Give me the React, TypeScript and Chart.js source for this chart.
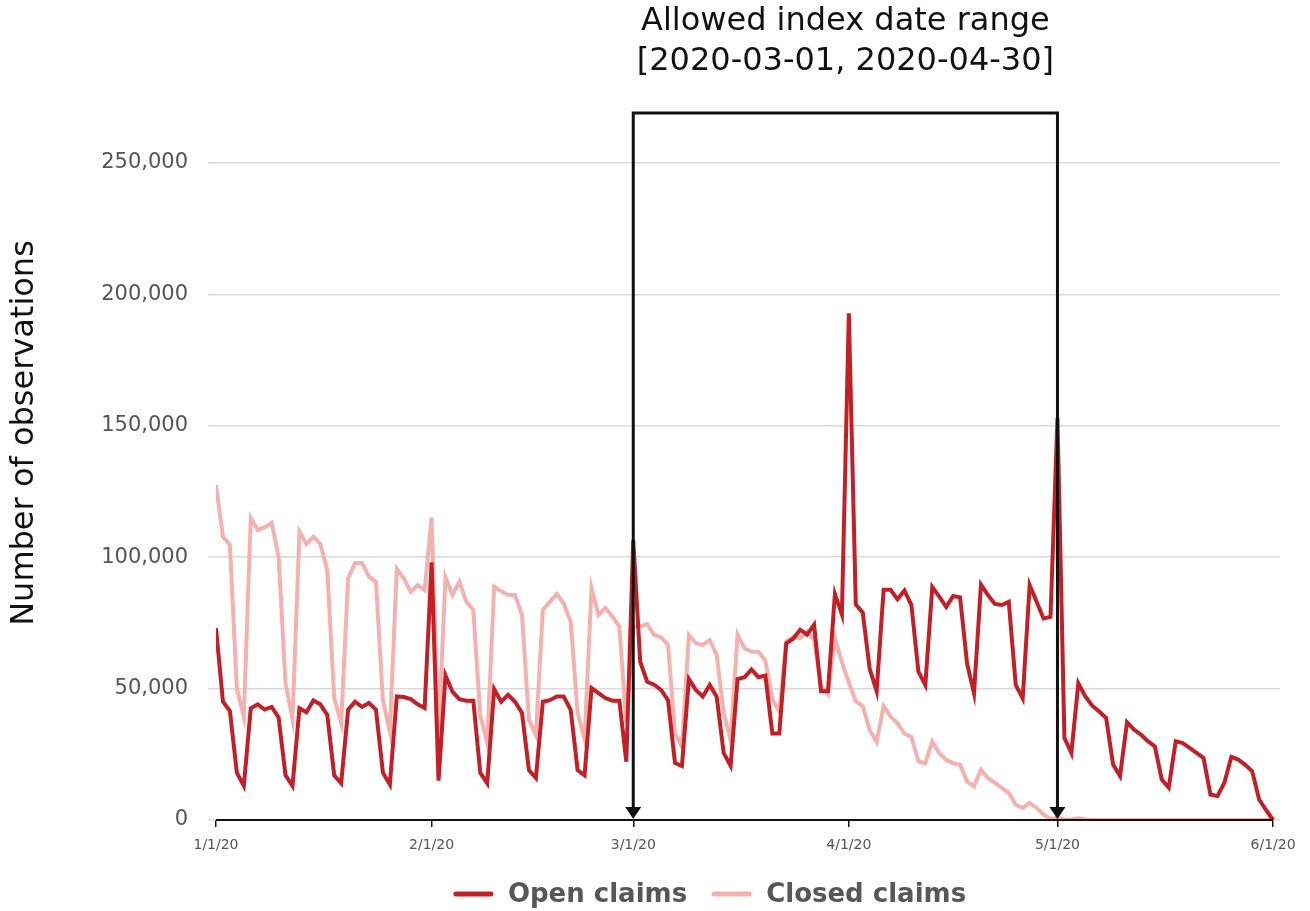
import React, { useEffect, useRef } from "react";
import { Chart, registerables } from "chart.js";

Chart.register(...registerables);

// Daily observations from 2020-01-01 (day 0) to 2020-06-01 (day 152)
const openClaims: number[] = [
  // Jan
  73000, 45000, 41500, 18000, 13000, 42500, 44000, 42000, 43000, 39000,
  17000, 13000, 42500, 41000, 45500, 44000, 40000, 17000, 14000, 42000,
  45000, 43000, 44500, 42000, 18000, 13500, 47000, 46800, 46000, 44000, 42600,
  // Feb
  98000, 15000, 55000, 48800, 46000, 45400, 45400, 18000, 14000, 49800,
  45000, 47600, 45000, 40700, 19000, 16000, 45000, 45600, 47000, 47000,
  41900, 19000, 17000, 50200, 48300, 46400, 45400, 45400, 22200,
  // Mar
  106500, 60200, 52600, 51500, 49500, 45600, 21700, 20500, 53600, 49500,
  47000, 51400, 46900, 25500, 20600, 53600, 54300, 57300, 54300, 55000,
  32900, 32900, 67200, 69000, 72400, 70500, 74300, 49000, 49000, 86000, 78200,
  // Apr
  192800, 82000, 78900, 57500, 49000, 87600, 87600, 84000, 87300, 81800,
  56500, 51400, 88700, 85000, 81100, 85200, 84700, 59600, 48200, 89600,
  85600, 82200, 81800, 83000, 51400, 46300, 89400, 83000, 76700, 77300,
  // May
  152900, 31200, 25500, 52000, 47000, 43500, 41300, 38800, 21100, 16700,
  37200, 34400, 32500, 30000, 28000, 15400, 12300, 30000, 29300, 27400,
  25500, 23600, 9700, 9100, 14200, 24000, 23000, 21000, 18500, 7800, 3800,
  // Jun 1
  0,
];

const closedClaims: number[] = [
  // Jan
  127500, 107800, 104600, 50000, 39300, 114900, 110300, 111400, 113000, 100200,
  52000, 38400, 109700, 105000, 107800, 105000, 95100, 46400, 36900, 92000,
  97800, 97800, 92600, 90600, 45600, 33600, 95500, 92000, 86900, 89400, 87500,
  // Feb
  115000, 31700, 92400, 85600, 90700, 83000, 79900, 40000, 29300, 88800,
  87000, 85600, 85600, 78000, 38000, 32300, 79900, 83000, 86000, 82500,
  75500, 40700, 30800, 88300, 78000, 80700, 77400, 73600, 37000,
  // Mar
  73600, 73600, 74600, 70400, 69500, 66600, 33000, 27900, 70400, 67300,
  66600, 68500, 62800, 40700, 30400, 70500, 65300, 64000, 64000, 60700,
  45900, 41300, 67900, 69800, 69200, 71800, 68500, 51000, 47800, 69200, 60100,
  // Apr
  52300, 45200, 43300, 34200, 29700, 43300, 39400, 36800, 32900, 31600,
  22300, 21600, 29900, 25400, 22900, 21600, 21000, 14700, 12800, 19100,
  16000, 14100, 12200, 10300, 5800, 4600, 6500, 4600, 2000, 400,
  // May
  800, 300, 200, 700, 300, 0, 0, 0, 0, 0,
  0, 0, 0, 0, 0, 0, 0, 0, 0, 0,
  0, 0, 0, 0, 0, 0, 0, 0, 0, 0, 0,
  // Jun 1
  0,
];

const seriesNames: string[] = ["Open claims", "Closed claims"];
const seriesColors: string[] = ["#C21F27", "#F3B2B0"];

const xTickDays: number[] = [0, 31, 60, 91, 121, 152];
const xTickLabels: string[] = ["1/1/20", "2/1/20", "3/1/20", "4/1/20", "5/1/20", "6/1/20"];
const yTicks: number[] = [0, 50000, 100000, 150000, 200000, 250000];

const yTitle = "Number of observations";
const rangeTitle: string[] = ["Allowed index date range", "[2020-03-01, 2020-04-30]"];
const rangeStartDay = 60;
const rangeEndDay = 121;
const rangeTopValue = 269000;

const FONT = "'DejaVu Sans', sans-serif";

export default function App() {
  const ref = useRef<HTMLCanvasElement | null>(null);

  useEffect(() => {
    if (!ref.current) return;
    Chart.defaults.font.family = FONT;

    const overlay = {
      id: "overlay",
      afterDraw(chart: any) {
        const { ctx, scales, chartArea } = chart;
        const xs = scales.x;
        const ys = scales.y;
        ctx.save();

        // bottom axis line (spans the data range)
        ctx.strokeStyle = "#111";
        ctx.lineWidth = 2;
        ctx.beginPath();
        ctx.moveTo(xs.getPixelForValue(0), chartArea.bottom);
        ctx.lineTo(xs.getPixelForValue(152), chartArea.bottom);
        ctx.stroke();

        // range box
        const x1 = xs.getPixelForValue(rangeStartDay);
        const x2 = xs.getPixelForValue(rangeEndDay);
        const yTop = ys.getPixelForValue(rangeTopValue);
        const yBot = ys.getPixelForValue(0);
        const ah = 12;
        const aw = 8;
        ctx.lineWidth = 3;
        ctx.lineJoin = "miter";
        ctx.beginPath();
        ctx.moveTo(x1, yBot - ah);
        ctx.lineTo(x1, yTop);
        ctx.lineTo(x2, yTop);
        ctx.lineTo(x2, yBot - ah);
        ctx.stroke();
        ctx.fillStyle = "#111";
        for (const x of [x1, x2]) {
          ctx.beginPath();
          ctx.moveTo(x - aw, yBot - ah - 1);
          ctx.lineTo(x + aw, yBot - ah - 1);
          ctx.lineTo(x, yBot - 1);
          ctx.closePath();
          ctx.fill();
        }

        // range title
        ctx.fillStyle = "#111";
        ctx.font = `32px ${FONT}`;
        ctx.textAlign = "center";
        ctx.textBaseline = "middle";
        const cx = (x1 + x2) / 2;
        ctx.fillText(rangeTitle[0], cx, 22);
        ctx.fillText(rangeTitle[1], cx, 62);

        // y title
        ctx.save();
        ctx.translate(25, 433);
        ctx.rotate(-Math.PI / 2);
        ctx.font = `32px ${FONT}`;
        ctx.fillText(yTitle, 0, 0);
        ctx.restore();

        // legend
        ctx.font = `bold 26px ${FONT}`;
        ctx.textAlign = "left";
        ctx.textBaseline = "middle";
        const ly = 894;
        const lineLen = 35;
        const gapLT = 17;
        const gapItems = 27;
        const w0 = ctx.measureText(seriesNames[0]).width;
        const w1 = ctx.measureText(seriesNames[1]).width;
        const total = lineLen + gapLT + w0 + gapItems + lineLen + gapLT + w1;
        let lx = 711 - total / 2;
        [0, 1].forEach((i) => {
          ctx.strokeStyle = seriesColors[i];
          ctx.lineWidth = 5;
          ctx.lineCap = "round";
          ctx.beginPath();
          ctx.moveTo(lx, ly);
          ctx.lineTo(lx + lineLen, ly);
          ctx.stroke();
          lx += lineLen + gapLT;
          ctx.fillStyle = "#555857";
          ctx.fillText(seriesNames[i], lx, ly + 1);
          lx += (i === 0 ? w0 : w1) + gapItems;
        });

        ctx.restore();
      },
    };

    const chart = new Chart(ref.current, {
      type: "line",
      data: {
        datasets: [
          {
            label: seriesNames[0],
            data: openClaims.map((v, i) => ({ x: i, y: v })),
            borderColor: seriesColors[0],
            backgroundColor: seriesColors[0],
            borderWidth: 4,
            pointRadius: 0,
            tension: 0,
          },
          {
            label: seriesNames[1],
            data: closedClaims.map((v, i) => ({ x: i, y: v })),
            borderColor: seriesColors[1],
            backgroundColor: seriesColors[1],
            borderWidth: 4,
            pointRadius: 0,
            tension: 0,
          },
        ],
      },
      options: {
        responsive: false,
        animation: false,
        layout: { padding: { left: 0, right: 30, top: 113, bottom: 51 } },
        plugins: {
          legend: { display: false },
          tooltip: { enabled: false },
        },
        scales: {
          x: {
            type: "linear",
            min: 0,
            max: 153,
            afterBuildTicks: (s: any) => {
              s.ticks = xTickDays.map((v) => ({ value: v }));
            },
            afterFit: (s: any) => {
              s.height = 40;
            },
            grid: {
              drawOnChartArea: false,
              drawTicks: true,
              tickLength: 7,
              color: "#111",
              lineWidth: 1.5,
            },
            border: { display: false },
            ticks: {
              autoSkip: false,
              maxRotation: 0,
              padding: 10,
              color: "#555",
              font: { size: 14 },
              callback: (_v: any, i: number) => xTickLabels[i],
            },
          },
          y: {
            min: 0,
            max: rangeTopValue,
            afterBuildTicks: (s: any) => {
              s.ticks = yTicks.map((v) => ({ value: v }));
            },
            afterFit: (s: any) => {
              s.width = 216;
            },
            grid: {
              color: "#dadada",
              lineWidth: 1.5,
              drawTicks: true,
              tickLength: 8,
            },
            border: { display: false },
            ticks: {
              padding: 20,
              color: "#555",
              font: { size: 21 },
              callback: (v: any) => Number(v).toLocaleString("en-US"),
            },
          },
        },
      },
      plugins: [overlay],
    });

    return () => chart.destroy();
  }, []);

  return (
    <div style={{ position: "fixed", left: 0, top: 0, width: 1310, height: 911, background: "#fff" }}>
      <canvas ref={ref} width={1310} height={911} />
    </div>
  );
}
